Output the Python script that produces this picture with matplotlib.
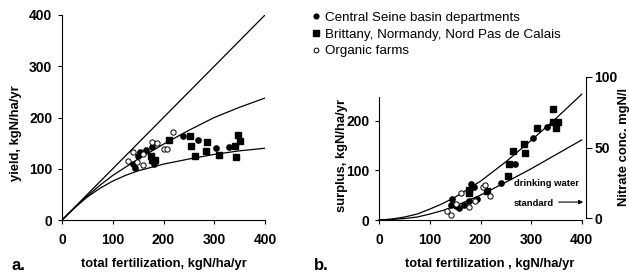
import matplotlib
matplotlib.use("Agg")
import matplotlib.pyplot as plt

plt.rcParams['font.family'] = ['Liberation Sans', 'DejaVu Sans']

# ---------------- data: panel a (yield) ----------------
seine_fert_a = [143, 140, 149, 154, 165, 178, 182, 238, 268, 303, 330]
seine_yield_a = [102, 110, 125, 133, 137, 142, 110, 163, 156, 140, 143]

britt_fert_a = [176, 177, 184, 211, 252, 255, 262, 285, 283, 310, 341, 343, 347, 350]
britt_yield_a = [124, 118, 118, 156, 164, 145, 125, 153, 135, 126, 145, 122, 165, 155]

org_fert_a = [131, 140, 148, 159, 160, 177, 188, 201, 206, 218]
org_yield_a = [115, 132, 114, 129, 108, 153, 151, 138, 139, 172]

curve_x = [0, 25, 50, 75, 100, 125, 150, 200, 250, 300, 350, 400]
one_to_one = [0, 25, 50, 75, 100, 125, 150, 200, 250, 300, 350, 400]
yield_high = [0, 24, 47, 68, 87, 103, 119, 148, 175, 200, 220, 238]
yield_low = [0, 24, 45, 62, 76, 87, 96, 109, 119, 128, 135, 140]

# ---------------- data: panel b (surplus) ----------------
seine_fert_b = [144, 141, 152, 158, 167, 178, 181, 187, 194, 241, 269, 304, 332]
seine_surp_b = [42, 31, 28, 25, 31, 39, 72, 66, 42, 75, 112, 164, 188]

britt_fert_b = [178, 178, 212, 254, 257, 264, 286, 287, 311, 344, 343, 353, 349]
britt_surp_b = [55, 60, 58, 88, 112, 139, 152, 134, 186, 223, 198, 197, 185]

org_fert_b = [133, 141, 161, 152, 178, 190, 204, 208, 219]
org_surp_b = [19, 10, 55, 33, 26, 39, 66, 70, 48]

surplus_high = [0, 2, 6, 12, 22, 33, 46, 78, 117, 160, 205, 253]
surplus_low = [0, 1, 3, 6, 12, 19, 28, 50, 76, 103, 132, 161]

nitrate_ticks = [0, 50, 100]
xticks = [0, 100, 200, 300, 400]

W, H = 629, 275
fig = plt.figure(figsize=(W / 100, H / 100), dpi=100)


def rect(l, r, t, b):
    return [l / W, (H - b) / H, (r - l) / W, (b - t) / H]


TICK_FS = 10
LAB_FS = 9.4
tick_kw = dict(direction='out', length=3, width=0.8, labelsize=TICK_FS)
lw = 0.9
ms_c, ms_s = 3.8, 4.2

# ---------------- panel a ----------------
ax = fig.add_axes(rect(62, 265, 15, 220))
ax.plot(curve_x, one_to_one, color='black', lw=lw)
ax.plot(curve_x, yield_high, color='black', lw=lw)
ax.plot(curve_x, yield_low, color='black', lw=lw)
ax.plot(seine_fert_a, seine_yield_a, 'o', color='black', ms=ms_c, ls='none')
ax.plot(britt_fert_a, britt_yield_a, 's', color='black', ms=ms_s, ls='none')
ax.plot(org_fert_a, org_yield_a, 'o', mfc='white', mec='black', mew=0.7, ms=ms_c, ls='none')
ax.set_xlim(0, 400)
ax.set_ylim(0, 400)
ax.set_xticks(xticks)
ax.set_yticks([0, 100, 200, 300, 400])
for s in ['top', 'right']:
    ax.spines[s].set_visible(False)
for s in ['left', 'bottom']:
    ax.spines[s].set_linewidth(0.8)
ax.tick_params(**tick_kw)
for lab in ax.get_xticklabels() + ax.get_yticklabels():
    lab.set_fontweight('bold')
ax.tick_params(axis='x', pad=6)
ax.tick_params(axis='y', pad=4)
fig.text(164 / W, 1 - 264 / H, 'total fertilization, kgN/ha/yr', ha='center', va='center',
         fontsize=LAB_FS, fontweight='bold')
fig.text(16 / W, 1 - 133 / H, 'yield, kgN/ha/yr', ha='center', va='center', rotation=90,
         fontsize=LAB_FS, fontweight='bold')
fig.text(12 / W, 1 - 265 / H, 'a.', ha='left', va='center', fontsize=12, fontweight='bold')

# ---------------- panel b ----------------
bx = fig.add_axes(rect(379.3, 581.7, 96.7, 220))
bx.plot(curve_x, surplus_high, color='black', lw=lw, clip_on=False)
bx.plot(curve_x, surplus_low, color='black', lw=lw, clip_on=False)
bx.plot(seine_fert_b, seine_surp_b, 'o', color='black', ms=ms_c, ls='none', label='Central Seine basin departments')
bx.plot(britt_fert_b, britt_surp_b, 's', color='black', ms=ms_s, ls='none', label='Brittany, Normandy, Nord Pas de Calais')
bx.plot(org_fert_b, org_surp_b, 'o', mfc='white', mec='black', mew=0.7, ms=ms_c, ls='none', label='Organic farms')
bx.set_xlim(0, 400)
bx.set_ylim(0, 248)
bx.set_xticks(xticks)
bx.set_yticks([0, 100, 200])
for s in ['top', 'right']:
    bx.spines[s].set_visible(False)
for s in ['left', 'bottom']:
    bx.spines[s].set_linewidth(0.8)
bx.tick_params(**tick_kw)
bx.tick_params(axis='x', pad=6)
bx.tick_params(axis='y', pad=4)
for lab in bx.get_xticklabels() + bx.get_yticklabels():
    lab.set_fontweight('bold')
fig.text(490 / W, 1 - 264 / H, 'total fertilization , kgN/ha/yr', ha='center', va='center',
         fontsize=LAB_FS, fontweight='bold')
fig.text(342 / W, 1 - 155 / H, 'surplus, kgN/ha/yr', ha='center', va='center', rotation=90,
         fontsize=LAB_FS, fontweight='bold')
fig.text(314 / W, 1 - 265 / H, 'b.', ha='left', va='center', fontsize=12, fontweight='bold')

# right axis: nitrate concentration
cx = fig.add_axes(rect(379.3, 586, 77, 218))
cx.patch.set_visible(False)
cx.set_xlim(0, 1)
cx.set_ylim(0, 100)
cx.set_xticks([])
cx.set_yticks(nitrate_ticks)
for s in ['top', 'left', 'bottom']:
    cx.spines[s].set_visible(False)
cx.spines['right'].set_linewidth(0.8)
cx.yaxis.tick_right()
cx.tick_params(axis='y', direction='out', length=4, width=0.8, labelsize=TICK_FS, pad=2)
for lab in cx.get_yticklabels():
    lab.set_fontweight('bold')
fig.text(624 / W, 1 - 147 / H, 'Nitrate conc. mgN/l', ha='center', va='center', rotation=90,
         fontsize=LAB_FS, fontweight='bold')

# drinking water standard annotation
cx.annotate('', xy=(1.0, 11.3), xytext=(0.855, 11.3),
            arrowprops=dict(arrowstyle='-|>', color='black', lw=0.8, mutation_scale=6))
fig.text(514 / W, 1 - 184 / H, 'drinking water', ha='left', va='center', fontsize=6.8, fontweight='bold')
fig.text(514 / W, 1 - 203 / H, 'standard', ha='left', va='center', fontsize=6.8, fontweight='bold')

# legend
handles, labels = bx.get_legend_handles_labels()
fig.legend(handles, labels, loc='upper left', bbox_to_anchor=(306 / W, 1 - 5 / H), frameon=False,
           fontsize=9.6, handlelength=0.5, handletextpad=0.45, labelspacing=0.32, borderpad=0,
           markerscale=0.9)

fig.savefig('out.png', dpi=100)
